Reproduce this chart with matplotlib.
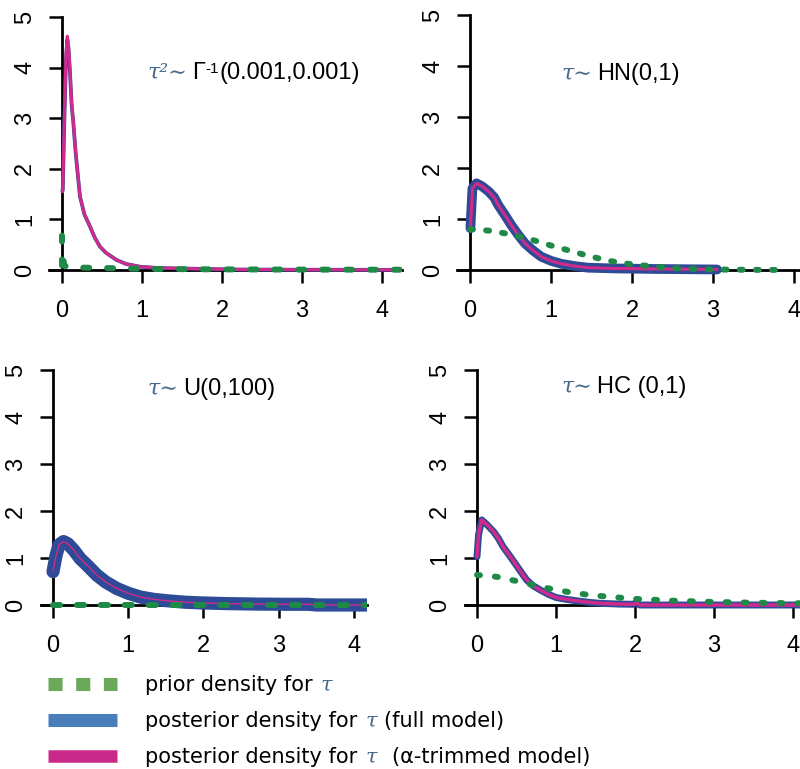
import matplotlib
matplotlib.use("Agg")
import matplotlib.pyplot as plt
from matplotlib.lines import Line2D
from matplotlib.text import Annotation

# ---------------------------------------------------------------- data
xticks = [0, 1, 2, 3, 4]
yticks = [0, 1, 2, 3, 4, 5]

# tau^2 ~ inverse gamma(0.001, 0.001)
ig_post_x = [0.005, 0.01, 0.03, 0.05, 0.066, 0.08, 0.10, 0.12, 0.14, 0.17, 0.20, 0.225,
             0.28, 0.35, 0.41, 0.475, 0.55, 0.68, 0.80, 0.975, 1.2, 1.5, 1.8, 2.2, 3.0, 4.4]
ig_post_full = [1.55, 1.6, 3.0, 4.15, 4.55, 4.4, 3.9, 3.27, 2.94, 2.33, 1.84, 1.45,
                1.1, 0.86, 0.64, 0.46, 0.34, 0.20, 0.12, 0.065, 0.04, 0.03, 0.02, 0.01, 0.005, 0.003]
ig_post_trim = [1.55, 1.6, 3.05, 4.25, 4.62, 4.45, 3.95, 3.29, 2.96, 2.35, 1.85, 1.45,
                1.1, 0.86, 0.63, 0.46, 0.34, 0.20, 0.12, 0.065, 0.04, 0.03, 0.02, 0.01, 0.005, 0.003]
ig_prior_x = [0.0, 0.0, 0.004, 0.012, 0.03, 0.06, 0.15, 0.3, 0.5, 0.8, 1.2, 2.0, 3.0, 4.4]
ig_prior_y = [0.68, 0.02, 0.2, 0.24, 0.09, 0.06, 0.05, 0.045, 0.04, 0.03, 0.02, 0.012, 0.008, 0.005]

# tau ~ half-normal(0, 1)
hn_post_x = [0.005, 0.03, 0.08, 0.15, 0.23, 0.30, 0.35, 0.43, 0.51, 0.60, 0.68, 0.78,
             0.88, 1.0, 1.13, 1.3, 1.46, 1.8, 2.3, 3.05]
hn_post_full = [0.82, 1.6, 1.70, 1.64, 1.54, 1.42, 1.27, 1.08, 0.88, 0.68, 0.52, 0.38,
                0.26, 0.18, 0.12, 0.075, 0.045, 0.03, 0.02, 0.01]
hn_post_trim = [0.82, 1.6, 1.70, 1.64, 1.54, 1.42, 1.27, 1.08, 0.88, 0.68, 0.52, 0.38,
                0.26, 0.18, 0.12, 0.075, 0.045, 0.03, 0.02, 0.01]
hn_prior_x = [0.0, 0.25, 0.5, 0.75, 1.0, 1.25, 1.5, 1.75, 2.0, 2.5, 3.0, 3.5, 3.9]
hn_prior_y = [0.80, 0.77, 0.70, 0.60, 0.48, 0.37, 0.26, 0.17, 0.11, 0.035, 0.01, 0.003, 0.001]

# tau ~ uniform(0, 100)
un_post_x = [0.0, 0.04, 0.08, 0.14, 0.20, 0.28, 0.36, 0.47, 0.58, 0.70, 0.85, 1.0, 1.16,
             1.34, 1.52, 1.75, 1.96, 2.3, 2.7, 3.1, 3.4, 3.5, 4.4]
un_post_full = [0.71, 1.05, 1.28, 1.35, 1.30, 1.16, 0.99, 0.82, 0.64, 0.49, 0.35, 0.25, 0.17,
                0.12, 0.09, 0.06, 0.045, 0.03, 0.02, 0.015, 0.015, 0.0, 0.0]
un_post_trim = [0.71, 1.05, 1.28, 1.35, 1.30, 1.16, 0.99, 0.82, 0.64, 0.49, 0.35, 0.25, 0.17,
                0.12, 0.09, 0.06, 0.045, 0.03, 0.02, 0.015, 0.015, 0.0, 0.0]
un_prior_x = [0.0, 1.0, 2.0, 3.0, 4.4]
un_prior_y = [0.01, 0.01, 0.01, 0.01, 0.01]

# tau ~ half-Cauchy(0, 1)
hc_post_x = [0.0, 0.02, 0.06, 0.12, 0.21, 0.27, 0.33, 0.40, 0.48, 0.55, 0.63, 0.71, 0.80,
             0.90, 1.0, 1.13, 1.26, 1.4, 1.56, 1.8, 1.98, 2.02, 2.06, 2.5, 3.0, 4.4]
hc_post_full = [1.03, 1.5, 1.81, 1.72, 1.56, 1.42, 1.24, 1.08, 0.89, 0.72, 0.53, 0.41, 0.32,
                0.23, 0.16, 0.12, 0.09, 0.06, 0.035, 0.02, 0.015, 0.05, 0.0, 0.0, 0.0, 0.0]
hc_post_trim = [1.03, 1.5, 1.81, 1.72, 1.56, 1.42, 1.24, 1.08, 0.89, 0.72, 0.53, 0.41, 0.32,
                0.23, 0.16, 0.12, 0.09, 0.06, 0.035, 0.02, 0.015, 0.05, 0.0, 0.0, 0.0, 0.0]
hc_prior_x = [0.0, 0.25, 0.5, 0.75, 1.0, 1.25, 1.5, 2.0, 2.5, 3.0, 3.5, 4.0, 4.4]
hc_prior_y = [0.64, 0.60, 0.51, 0.41, 0.32, 0.25, 0.20, 0.13, 0.09, 0.065, 0.048, 0.038, 0.033]

# ---------------------------------------------------------------- style
GREEN = "#1f8a47"
BLUE = "#2d4b96"
MAGENTA = "#d02a8c"
TAU_C = "#4a6a8c"
LEG_GREEN = "#6aa85a"
LEG_BLUE = "#4a7ebb"
LEG_MAGENTA = "#c92a8a"
SANS = ["Liberation Sans", "DejaVu Sans"]
LEG_SANS = ["DejaVu Sans"]

plt.rcParams["font.family"] = SANS

W, H = 800, 769
fig = plt.figure(figsize=(W / 100, H / 100), dpi=100)


def make_axes(box, origin, scale):
    """Axes placed by pixel box (left, top, right, bottom) with the data
    origin at pixel `origin` and `scale` pixels per unit."""
    left, top, right, bottom = box
    x0, y0 = origin
    sx, sy = scale
    ax = fig.add_axes([left / W, 1 - bottom / H, (right - left) / W, (bottom - top) / H])
    ax.set_xlim((left - x0) / sx, (right - x0) / sx)
    ax.set_ylim((y0 - bottom) / sy, (y0 - top) / sy)
    ax.patch.set_visible(False)
    for s in ("top", "right"):
        ax.spines[s].set_visible(False)
    ax.spines["left"].set_position(("data", 0))
    ax.spines["left"].set_bounds(0, 5)
    ax.spines["bottom"].set_position(("data", 0))
    for s in ("left", "bottom"):
        ax.spines[s].set_linewidth(2.0)
    ax.set_xticks(xticks)
    ax.set_yticks(yticks)
    ax.tick_params(axis="both", length=9.5, width=1.8, labelsize=17)
    ax.tick_params(axis="x", pad=12)
    ax.tick_params(axis="y", pad=9, labelrotation=90)
    for lab in ax.get_yticklabels():
        lab.set_va("center")
    return ax


def chain(prev, s, dx_pt, dy_pt=0, **kw):
    """Place text `s` right after the artist `prev`, sharing its bottom edge."""
    a = Annotation(s, xy=(1, 0), xycoords=prev, xytext=(dx_pt, dy_pt),
                   textcoords="offset points", ha="left", va="bottom",
                   annotation_clip=False, **kw)
    a.set_zorder(6)
    fig.add_artist(a)
    return a


# title pieces: (text, size, raise in points)
panels = [
    dict(box=(49, 5, 402, 280), origin=(62, 270), scale=(80, 50.6),
         px=ig_prior_x, py=ig_prior_y, x=ig_post_x, full=ig_post_full, trim=ig_post_trim,
         lw=(2.7, 2.2), dash=(1.0, 3.0),
         title_at=(148, 79), greek="τ²∼",
         rest=[("Γ", 17, 0), ("-1", 11, 6), ("(0.001,0.001)", 17, -6)]),
    dict(box=(457, 5, 800, 280), origin=(470, 270), scale=(81, 51),
         px=hn_prior_x, py=hn_prior_y, x=hn_post_x, full=hn_post_full, trim=hn_post_trim,
         lw=(7.0, 2.2), dash=(0.5, 2.2),
         title_at=(562, 80), greek="τ∼", rest=[("HN(0,1)", 17, 0)]),
    dict(box=(41, 360, 367, 615), origin=(53, 605), scale=(75.2, 47),
         px=un_prior_x, py=un_prior_y, x=un_post_x, full=un_post_full, trim=un_post_trim,
         lw=(9.5, 1.0), dash=(1.2, 2.8),
         title_at=(148, 395), greek="τ∼", rest=[("U(0,100)", 17, 0)]),
    dict(box=(465, 360, 800, 615), origin=(477, 605), scale=(79, 47),
         px=hc_prior_x, py=hc_prior_y, x=hc_post_x, full=hc_post_full, trim=hc_post_trim,
         lw=(5.0, 2.5), dash=(0.5, 2.5),
         title_at=(562, 393), greek="τ∼", rest=[("HC (0,1)", 17, 0)]),
]

for p in panels:
    ax = make_axes(p["box"], p["origin"], p["scale"])
    ax.plot(p["x"], p["full"], color=BLUE, lw=p["lw"][0],
            solid_joinstyle="round", solid_capstyle="round", zorder=3)
    ax.plot(p["x"], p["trim"], color=MAGENTA, lw=p["lw"][1],
            solid_joinstyle="round", solid_capstyle="round", zorder=4)
    ax.plot(p["px"], p["py"], color=GREEN, lw=4.3, linestyle=(0, p["dash"]),
            dash_capstyle="round", zorder=5)

    tx, ty = p["title_at"]
    prev = fig.text(tx / W, 1 - ty / H, p["greek"], color=TAU_C, fontsize=16,
                    family=["DejaVu Serif"], style="italic", ha="left", va="baseline")
    gap = 3
    for s, size, rise in p["rest"]:
        prev = chain(prev, s, gap, rise, fontsize=size, color="black", family=SANS)
        gap = 0.5

# ---------------------------------------------------------------- legend
handles = [
    Line2D([], [], color=LEG_GREEN, lw=9.4, linestyle=(0, (1.08, 1.04)),
           dash_capstyle="butt"),
    Line2D([], [], color=LEG_BLUE, lw=9.4, solid_capstyle="butt"),
    Line2D([], [], color=LEG_MAGENTA, lw=9.0, solid_capstyle="butt"),
]
prefixes = ["prior density for", "posterior density for", "posterior density for"]
suffixes = ["", "(full model)", "(α-trimmed model)"]
suffix_gap = [0, 5, 11]

leg = fig.legend(handles, prefixes, loc="upper left",
                 bbox_to_anchor=(48 / W, 1 - 675 / H), frameon=False,
                 prop={"family": LEG_SANS, "size": 15}, handlelength=3.3,
                 handletextpad=1.35, labelspacing=0.77, borderpad=0, borderaxespad=0)

for txt, suf, gap in zip(leg.get_texts(), suffixes, suffix_gap):
    tau = chain(txt, "τ", 6, fontsize=15, color=TAU_C, family=["DejaVu Serif"],
                style="italic")
    if suf:
        chain(tau, suf, gap, fontsize=15, color="black", family=LEG_SANS)

fig.savefig("out.png", dpi=100)
